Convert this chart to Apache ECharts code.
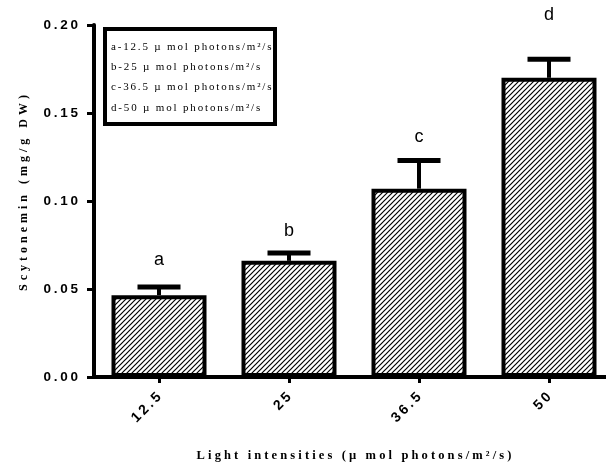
<!DOCTYPE html>
<html>
<head>
<meta charset="utf-8">
<script src="https://cdn.jsdelivr.net/npm/echarts@6/dist/echarts.min.js"></script>
<style>
  html, body { margin: 0; padding: 0; background: #fff; }
  #main { width: 606px; height: 468px; }
</style>
</head>
<body>
<div id="main"></div>
<script>
// data
var categories = ['12.5', '25', '36.5', '50'];
var means = [0.0465, 0.066, 0.107, 0.170];
var errors = [0.0047, 0.0044, 0.016, 0.0105];
var letters = ['a', 'b', 'c', 'd'];
var legendLines = [
  'a-12.5 µ mol photons/m²/s',
  'b-25 µ mol photons/m²/s',
  'c-36.5 µ mol photons/m²/s',
  'd-50 µ mol photons/m²/s'
];

// how far each letter sits above its error cap (px)
var letterGap = [27, 22, 23, 44];

// spread letters a bit, the original has wide tracking
function sp(s, gap) {
  return s.split('').join(gap);
}

function hatch() {
  var c = document.createElement('canvas');
  c.width = 5;
  c.height = 5;
  var g = c.getContext('2d');
  g.fillStyle = '#fff';
  g.fillRect(0, 0, 5, 5);
  g.strokeStyle = '#000';
  g.lineWidth = 1.2;
  g.beginPath();
  g.moveTo(-1, 6); g.lineTo(6, -1);
  g.moveTo(-1, 1); g.lineTo(1, -1);
  g.moveTo(4, 6); g.lineTo(6, 4);
  g.stroke();
  return c;
}

var myChart = echarts.init(document.getElementById('main'));

var legendGraphics = [{
  type: 'rect',
  shape: { x: 105, y: 29, width: 170, height: 95 },
  style: { fill: '#fff', stroke: '#000', lineWidth: 4 },
  z: 10
}];
legendLines.forEach(function (t, i) {
  legendGraphics.push({
    type: 'text',
    x: 111,
    y: 47 + i * 20.3,
    style: {
      text: sp(t, '\u2006'),
      font: '11px "Liberation Serif"',
      fill: '#000',
      verticalAlign: 'middle'
    },
    z: 11
  });
});

var option = {
  animation: false,
  grid: {
    left: 94,
    top: 25,
    width: 520,
    height: 352,
    outerBoundsMode: 'none'
  },
  graphic: legendGraphics,
  xAxis: {
    type: 'category',
    data: categories,
    name: sp('Light intensities (µ mol photons/m²/s)', '\u2005'),
    nameLocation: 'middle',
    nameGap: 72,
    nameTextStyle: {
      fontFamily: 'Liberation Serif',
      fontWeight: 'bold',
      fontSize: 12.5,
      color: '#000'
    },
    axisLine: { show: true, lineStyle: { color: '#000', width: 4 } },
    axisTick: { show: true, alignWithLabel: true, length: 6, lineStyle: { color: '#000', width: 3 } },
    axisLabel: {
      rotate: 45,
      margin: 18,
      color: '#000',
      fontFamily: 'Liberation Sans',
      fontWeight: 'bold',
      fontSize: 14,
      formatter: function (v) { return sp(v, '\u2009'); }
    }
  },
  yAxis: {
    type: 'value',
    min: 0,
    max: 0.2,
    interval: 0.05,
    name: sp('Scytonemin (mg/g DW)', '\u2004'),
    nameLocation: 'middle',
    nameGap: 64,
    nameTextStyle: {
      fontFamily: 'Liberation Serif',
      fontWeight: 'bold',
      fontSize: 12,
      color: '#000',
      padding: [0, 0, 0, 16]
    },
    axisLine: { show: true, lineStyle: { color: '#000', width: 4 } },
    axisTick: { show: true, length: 7, lineStyle: { color: '#000', width: 3 } },
    splitLine: { show: false },
    axisLabel: {
      margin: 16,
      color: '#000',
      fontFamily: 'Liberation Sans',
      fontWeight: 'bold',
      fontSize: 13.5,
      formatter: function (v) { return sp(v.toFixed(2), '\u2009'); }
    }
  },
  series: [
    {
      type: 'bar',
      data: means,
      barWidth: 95,
      itemStyle: {
        color: { image: hatch(), repeat: 'repeat' },
        borderColor: '#000',
        borderWidth: 4
      },
      z: 2
    },
    {
      type: 'custom',
      data: means.map(function (m, i) { return [i, m, m + errors[i]]; }),
      renderItem: function (params, api) {
        var i = params.dataIndex;
        var base = api.coord([api.value(0), api.value(1)]);
        var top = api.coord([api.value(0), api.value(2)]);
        var half = 21.5;
        return {
          type: 'group',
          children: [
            { type: 'line', shape: { x1: base[0], y1: base[1], x2: base[0], y2: top[1] },
              style: { stroke: '#000', lineWidth: 4 } },
            { type: 'line', shape: { x1: base[0] - half, y1: top[1], x2: base[0] + half, y2: top[1] },
              style: { stroke: '#000', lineWidth: 5 } },
            { type: 'text', x: base[0], y: top[1] - letterGap[i],
              style: { text: letters[i], font: '18px "Liberation Sans"', fill: '#000',
                       align: 'center', verticalAlign: 'middle' } }
          ]
        };
      },
      z: 3
    }
  ]
};

myChart.setOption(option);
</script>
</body>
</html>
